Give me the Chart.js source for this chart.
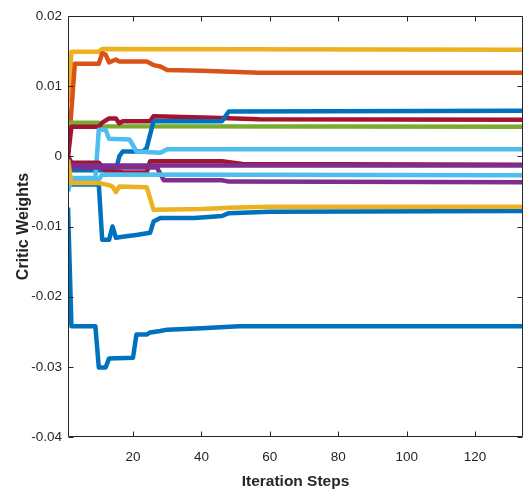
<!DOCTYPE html>
<html>
<head>
<meta charset="utf-8">
<script src="https://cdn.jsdelivr.net/npm/chart.js@4.4.1/dist/chart.umd.min.js"></script>
<style>
  html, body { margin: 0; padding: 0; background: #fff; }
  #wrap { width: 524px; height: 491px; }
</style>
</head>
<body>
<div id="wrap"><canvas id="c"></canvas></div>
<script>
// tick labels
var xTicks = [20, 40, 60, 80, 100, 120];
var yTicks = [0.02, 0.01, 0, -0.01, -0.02, -0.03, -0.04];

// each series: iteration steps where the value changes, and the values there
var yellowAIter = [1, 2, 10, 11, 134];
var yellowAVal = [0.0076, 0.0149, 0.0149, 0.0153, 0.0152];

var orangeIter = [1, 3, 10, 11, 12, 13, 15, 16, 24, 26, 28, 30, 40, 57, 134];
var orangeVal = [0.0, 0.0132, 0.0132, 0.0147, 0.0145, 0.0134, 0.0138, 0.0135, 0.0135, 0.013, 0.0128, 0.0123, 0.0122, 0.0119, 0.0119];

var blueAIter = [1, 15, 16, 17, 23, 24, 26, 46, 48, 134];
var blueAVal = [-0.002, -0.002, 0.0, 0.0007, 0.0007, 0.0012, 0.005, 0.005, 0.0064, 0.0065];

var darkRedAIter = [1, 2, 10, 11, 13, 15, 16, 17, 25, 26, 43, 57, 134];
var darkRedAVal = [0.0, 0.0042, 0.0042, 0.0048, 0.0054, 0.0054, 0.0047, 0.005, 0.005, 0.0057, 0.0055, 0.0053, 0.0052];

var greenIter = [1, 10, 11, 134];
var greenVal = [0.0048, 0.0048, 0.0043, 0.0042];

var lightBlueAIter = [1, 2, 9, 10, 12, 13, 19, 21, 28, 30, 134];
var lightBlueAVal = [-0.005, -0.0031, -0.0031, 0.0038, 0.0038, 0.0025, 0.0024, 0.0007, 0.0005, 0.001, 0.001];

var darkRedBIter = [1, 2, 10, 12, 16, 17, 24, 25, 46, 52, 134];
var darkRedBVal = [0.0, -0.0009, -0.0009, -0.0021, -0.0022, -0.0023, -0.0023, -0.0007, -0.0007, -0.0011, -0.0012];

var purpleAIter = [1, 2, 134];
var purpleAVal = [-0.0004, -0.0013, -0.0013];

var lightBlueBIter = [1, 2, 10, 11, 134];
var lightBlueBVal = [-0.0048, -0.0033, -0.0033, -0.0026, -0.0027];

var purpleBIter = [1, 2, 27, 29, 46, 48, 134];
var purpleBVal = [-0.0008, -0.0016, -0.0016, -0.0034, -0.0034, -0.0036, -0.0037];

var yellowBIter = [1, 2, 10, 13, 14, 15, 16, 24, 26, 40, 50, 60, 134];
var yellowBVal = [-0.0005, -0.0038, -0.0038, -0.0041, -0.0043, -0.0051, -0.0043, -0.0044, -0.0076, -0.0075, -0.0073, -0.0072, -0.0072];

var blueBIter = [1, 2, 10, 11, 13, 14, 15, 18, 21, 25, 26, 28, 38, 46, 48, 60, 134];
var blueBVal = [-0.003, -0.004, -0.004, -0.0119, -0.0119, -0.01, -0.0116, -0.0114, -0.0112, -0.0109, -0.0093, -0.0088, -0.0088, -0.0085, -0.0081, -0.0079, -0.0078];

var blueCIter = [1, 2, 9, 10, 12, 13, 20, 21, 24, 25, 28, 30, 40, 51, 134];
var blueCVal = [-0.0073, -0.0242, -0.0242, -0.0301, -0.0301, -0.0288, -0.0287, -0.0254, -0.0254, -0.0251, -0.0249, -0.0247, -0.0245, -0.0242, -0.0242];

var BLUE = "#0072BD", ORANGE = "#D95319", YELLOW = "#EDB120", PURPLE = "#7E2F8E",
    GREEN = "#77AC30", LBLUE = "#4DBEEE", DRED = "#A2142F";

function pts(iter, vals) {
  return iter.map(function (x, i) { return { x: x, y: vals[i] }; });
}
function ds(iter, vals, color) {
  return {
    data: pts(iter, vals),
    borderColor: color,
    backgroundColor: color,
    borderWidth: 4.5,
    pointRadius: 0,
    tension: 0,
    fill: false,
    borderJoinStyle: "round",
  };
}

var axisColor = "#262626";

// box round the plot with inward ticks, like the original
var framePlugin = {
  id: "frame",
  afterDraw: function (chart) {
    var c = chart.ctx, a = chart.chartArea;
    var xs = chart.scales.x, ys = chart.scales.y;
    var L = Math.round(a.left) + 0.5, R = Math.round(a.right) - 0.5;
    var T = Math.round(a.top) + 0.5, B = Math.round(a.bottom) - 0.5;
    c.save();
    c.strokeStyle = axisColor;
    c.lineWidth = 1;
    c.beginPath();
    c.moveTo(L, T); c.lineTo(R, T); c.lineTo(R, B); c.lineTo(L, B); c.closePath();
    var tl = 5;
    xTicks.forEach(function (v) {
      var px = Math.round(xs.getPixelForValue(v)) + 0.5;
      c.moveTo(px, B); c.lineTo(px, B - tl);
      c.moveTo(px, T); c.lineTo(px, T + tl);
    });
    yTicks.forEach(function (v) {
      var py = Math.round(ys.getPixelForValue(v)) + 0.5;
      c.moveTo(L, py); c.lineTo(L + tl, py);
      c.moveTo(R, py); c.lineTo(R - tl, py);
    });
    c.stroke();
    c.restore();
  },
};

var ctx = document.getElementById("c");
var myChart = new Chart(ctx, {
  type: "line",
  data: {
    datasets: [
      ds(blueCIter, blueCVal, BLUE),
      ds(yellowBIter, yellowBVal, YELLOW),
      ds(lightBlueBIter, lightBlueBVal, LBLUE),
      ds(purpleBIter, purpleBVal, PURPLE),
      ds(purpleAIter, purpleAVal, PURPLE),
      ds(darkRedBIter, darkRedBVal, DRED),
      ds(lightBlueAIter, lightBlueAVal, LBLUE),
      ds(blueAIter, blueAVal, BLUE),
      ds(blueBIter, blueBVal, BLUE),
      ds(darkRedAIter, darkRedAVal, DRED),
      ds(greenIter, greenVal, GREEN),
      ds(orangeIter, orangeVal, ORANGE),
      ds(yellowAIter, yellowAVal, YELLOW),
    ],
  },
  options: {
    responsive: true,
    maintainAspectRatio: false,
    animation: false,
    layout: { padding: { left: 0, right: 1, top: 16, bottom: 0 } },
    plugins: { legend: { display: false }, tooltip: { enabled: false } },
    scales: {
      x: {
        type: "linear",
        min: 1,
        max: 134,
        grid: { display: false, drawTicks: false },
        border: { display: false },
        afterFit: function (s) { s.height = 54; },
        afterBuildTicks: function (s) {
          s.ticks = xTicks.map(function (v) { return { value: v }; });
        },
        ticks: {
          autoSkip: false,
          maxRotation: 0,
          padding: 12,
          color: axisColor,
          font: { family: "'Liberation Sans', Arial, sans-serif", size: 13.5 },
        },
        title: {
          display: true,
          text: "Iteration Steps",
          color: axisColor,
          padding: { top: 0, bottom: 0 },
          font: { family: "'Liberation Sans', Arial, sans-serif", size: 15.5, weight: "bold" },
        },
      },
      y: {
        min: -0.04,
        max: 0.02,
        grid: { display: false, drawTicks: false },
        border: { display: false },
        afterFit: function (s) { s.width = 68; },
        afterBuildTicks: function (s) {
          s.ticks = yTicks.map(function (v) { return { value: v }; });
        },
        ticks: {
          padding: 6,
          color: axisColor,
          font: { family: "'Liberation Sans', Arial, sans-serif", size: 13.5 },
          callback: function (v) {
            return Math.abs(v) < 1e-9 ? "0" : v.toFixed(2);
          },
        },
        title: {
          display: true,
          text: "Critic Weights",
          color: axisColor,
          padding: { top: 14, bottom: 0 },
          font: { family: "'Liberation Sans', Arial, sans-serif", size: 16, weight: "bold" },
        },
      },
    },
  },
  plugins: [framePlugin],
});
</script>
</body>
</html>
